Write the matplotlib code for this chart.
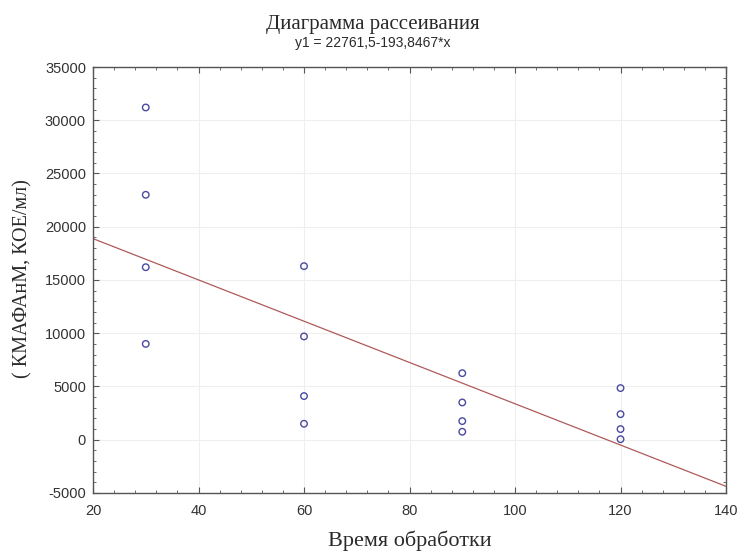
import numpy as np
import matplotlib
matplotlib.use('Agg')
import matplotlib.pyplot as plt
from matplotlib.ticker import MultipleLocator

plt.rcParams['axes.unicode_minus'] = False

# данные: время обработки и КМАФАнМ
x_time = [30, 30, 30, 30, 60, 60, 60, 60, 90, 90, 90, 90, 120, 120, 120, 120]
y_kmafanm = [31200, 23000, 16200, 9000,
             16300, 9700, 4100, 1500,
             6250, 3500, 1750, 750,
             4850, 2400, 1000, 50]
b0 = 22761.5
b1 = -193.8467

title = 'Диаграмма рассеивания'
subtitle = 'y1 = 22761,5-193,8467*x'
xlabel = 'Время обработки'
ylabel = '( КМАФАнМ, КОЕ/мл)'

fig = plt.figure(figsize=(7.41, 5.51), dpi=100)
ax = fig.add_axes([0.1255, 0.1053, 0.8543, 0.7731])

xx = np.array([20, 140])
ax.plot(xx, b0 + b1 * xx, color='#b05a5a', lw=0.9, zorder=2)
ax.scatter(x_time, y_kmafanm, s=22, facecolors='none', edgecolors='#4a4aa0',
           linewidths=1.0, zorder=3)

ax.set_xlim(20, 140)
ax.set_ylim(-5000, 35000)
ax.xaxis.set_major_locator(MultipleLocator(20))
ax.xaxis.set_minor_locator(MultipleLocator(4))
ax.yaxis.set_major_locator(MultipleLocator(5000))
ax.yaxis.set_minor_locator(MultipleLocator(1000))
ax.grid(True, which='major', color='#efefef', lw=0.8)
ax.set_axisbelow(True)
ax.tick_params(which='both', direction='in', top=True, right=True,
               labelsize=10.5, colors='#555555', labelcolor='#333333')
ax.tick_params(which='major', length=4)
ax.tick_params(which='minor', length=2)
ax.tick_params(axis='x', which='major', pad=8)
ax.tick_params(axis='y', which='major', pad=5)
for lab in ax.get_xticklabels() + ax.get_yticklabels():
    lab.set_family('Liberation Sans')
for sp in ax.spines.values():
    sp.set_color('#555555')
    sp.set_linewidth(1.0)

fig.text(0.5527, 1 - 541 / 551, xlabel, ha='center', va='center',
         family='Liberation Serif', fontsize=16, color='#2a2a2a')
fig.text(23 / 741, 0.495, ylabel, ha='center', va='center', rotation=90,
         family='Liberation Serif', fontsize=14.5, color='#2a2a2a')
fig.text(0.503, 0.955, title, ha='center', va='center', family='Liberation Serif',
         fontsize=15, color='#2a2a2a')
fig.text(0.503, 0.922, subtitle, ha='center', va='center', family='Liberation Sans',
         fontsize=10, color='#2a2a2a')

fig.savefig('out.png', dpi=100)
plt.close()
